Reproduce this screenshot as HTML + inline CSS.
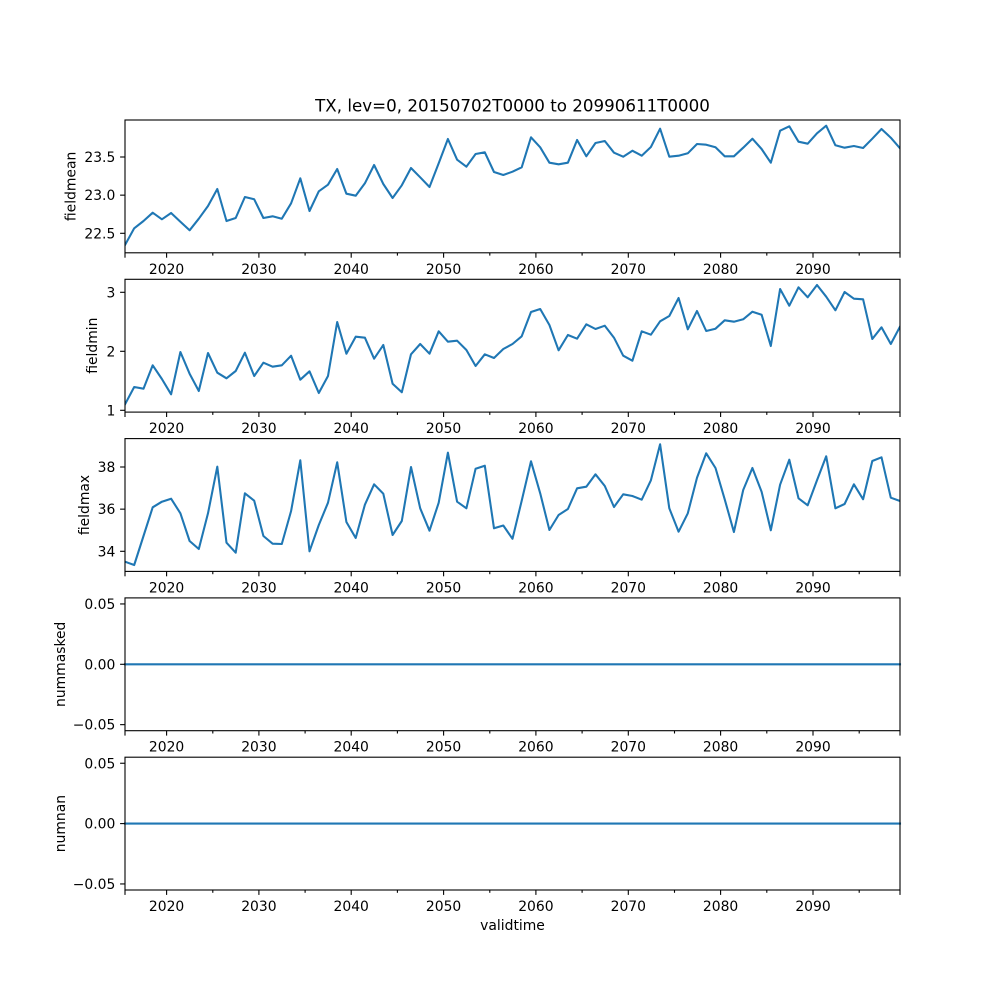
<!DOCTYPE html>
<html><head><meta charset="utf-8"><style>
html,body{margin:0;padding:0;background:#fff;}
svg{display:block;}
text{font-family:"DejaVu Sans","Liberation Sans",sans-serif;fill:#000;}
.tk{font-size:13.9px;}
.yl{font-size:13.9px;text-anchor:middle;}
.yt{text-anchor:end;}
.xt{text-anchor:middle;}
.ln{fill:none;stroke:#1f77b4;stroke-width:2.08;stroke-linejoin:round;stroke-linecap:square;}
.sp{fill:none;stroke:#000;stroke-width:1.1;}
.t{stroke:#000;stroke-width:1.1;}
</style></head><body>
<svg width="1000" height="1000" viewBox="0 0 1000 1000" xmlns="http://www.w3.org/2000/svg">
<defs>
<clipPath id="c1"><rect x="125" y="120" width="775" height="132.8"/></clipPath>
<clipPath id="c2"><rect x="125" y="279.3" width="775" height="132.8"/></clipPath>
<clipPath id="c3"><rect x="125" y="438.6" width="775" height="132.8"/></clipPath>
<clipPath id="c4"><rect x="125" y="597.9" width="775" height="132.8"/></clipPath>
<clipPath id="c5"><rect x="125" y="757.2" width="775" height="132.8"/></clipPath>
<g id="xt">
<line x1="125" y1="0" x2="125" y2="4.9"/>
<line x1="166.6" y1="0" x2="166.6" y2="4.9"/>
<line x1="258.9" y1="0" x2="258.9" y2="4.9"/>
<line x1="351.2" y1="0" x2="351.2" y2="4.9"/>
<line x1="443.6" y1="0" x2="443.6" y2="4.9"/>
<line x1="535.9" y1="0" x2="535.9" y2="4.9"/>
<line x1="628.3" y1="0" x2="628.3" y2="4.9"/>
<line x1="720.6" y1="0" x2="720.6" y2="4.9"/>
<line x1="813.0" y1="0" x2="813.0" y2="4.9"/>
<line x1="900" y1="0" x2="900" y2="4.9"/>
<line x1="212.8" y1="0" x2="212.8" y2="2.8"/>
<line x1="305.1" y1="0" x2="305.1" y2="2.8"/>
<line x1="397.4" y1="0" x2="397.4" y2="2.8"/>
<line x1="489.8" y1="0" x2="489.8" y2="2.8"/>
<line x1="582.1" y1="0" x2="582.1" y2="2.8"/>
<line x1="674.5" y1="0" x2="674.5" y2="2.8"/>
<line x1="766.8" y1="0" x2="766.8" y2="2.8"/>
<line x1="859.2" y1="0" x2="859.2" y2="2.8"/>
</g>
<g id="xl">
<text x="166.6" y="0" class="tk xt">2020</text>
<text x="258.9" y="0" class="tk xt">2030</text>
<text x="351.2" y="0" class="tk xt">2040</text>
<text x="443.6" y="0" class="tk xt">2050</text>
<text x="535.9" y="0" class="tk xt">2060</text>
<text x="628.3" y="0" class="tk xt">2070</text>
<text x="720.6" y="0" class="tk xt">2080</text>
<text x="813.0" y="0" class="tk xt">2090</text>
</g>
</defs>

<text x="512.5" y="111.7" style="font-size:16.7px;text-anchor:middle">TX, lev=0, 20150702T0000 to 20990611T0000</text>

<!-- Panel 1 -->
<g clip-path="url(#c1)">
<polyline class="ln" transform="translate(-0.3,0)" points="125.3,245 134.5,228.3 143.8,221 153.0,212.7 162.2,219.3 171.4,213 180.7,221.7 189.9,230.3 199.1,218.7 208.3,206 217.6,189 226.8,221 236.0,218 245.2,197 254.5,199.3 263.7,218 272.9,216.3 282.1,218.7 291.4,203.3 300.6,178.3 309.8,211 319.1,191.3 328.3,184.7 337.5,169 346.7,193.7 356.0,195.7 365.2,183.3 374.4,165 383.6,184 392.9,198 402.1,185.3 411.3,168 420.5,177.3 429.8,187 439.0,163.3 448.2,139 457.4,159.7 466.7,166.7 475.9,154 485.1,152.3 494.3,172 503.6,175 512.8,171.7 522.0,167.3 531.3,137.3 540.5,147.3 549.7,162.7 558.9,164.3 568.2,162.7 577.4,140 586.6,156.3 595.8,143 605.1,141 614.3,152.7 623.5,156.7 632.7,150.7 642.0,155.7 651.2,147 660.4,128.7 669.6,156.7 678.9,155.7 688.1,153.3 697.3,144 706.5,144.7 715.8,147.3 725.0,156.3 734.2,156.3 743.5,147.7 752.7,138.7 761.9,149 771.1,162.7 780.4,130.7 789.6,126.3 798.8,141.7 808.0,143.7 817.3,133.3 826.5,125.7 835.7,145.3 844.9,147.7 854.2,146 863.4,148 872.6,138.7 881.8,129 891.1,137.7 900.3,148.3"/>
</g>
<rect class="sp" x="125" y="120" width="775" height="132.8"/>
<g class="t"><line x1="120.1" y1="233.3" x2="125" y2="233.3"/><line x1="120.1" y1="195.15" x2="125" y2="195.15"/><line x1="120.1" y1="157" x2="125" y2="157"/></g>
<text x="115.3" y="238.3" class="tk yt">22.5</text>
<text x="115.3" y="200.15" class="tk yt">23.0</text>
<text x="115.3" y="162" class="tk yt">23.5</text>
<use href="#xt" class="t" transform="translate(0,252.8)"/>
<use href="#xl" transform="translate(0,273.8)"/>
<text class="yl" transform="translate(75.5,186.4) rotate(-90)">fieldmean</text>

<!-- Panel 2 -->
<g clip-path="url(#c2)">
<polyline class="ln" transform="translate(-0.3,0)" points="125.3,404.3 134.5,387 143.8,388.7 153.0,365.3 162.2,379 171.4,394.3 180.7,352 189.9,373.7 199.1,391 208.3,353 217.6,372.7 226.8,378.3 236.0,371 245.2,352.7 254.5,376 263.7,362.7 272.9,366.7 282.1,365.3 291.4,355.7 300.6,379.7 309.8,371.3 319.1,393 328.3,376 337.5,322 346.7,353.7 356.0,336.7 365.2,337.7 374.4,358.7 383.6,345 392.9,383.7 402.1,392.3 411.3,354.3 420.5,344 429.8,353.7 439.0,331.3 448.2,341.7 457.4,340.7 466.7,350 475.9,366 485.1,354.3 494.3,358 503.6,349 512.8,344 522.0,336.3 531.3,312 540.5,309 549.7,325 558.9,350.3 568.2,335 577.4,338.7 586.6,324.3 595.8,329 605.1,325.7 614.3,337.7 623.5,355.7 632.7,360.7 642.0,331.3 651.2,334.7 660.4,321.3 669.6,316 678.9,298 688.1,329.3 697.3,311 706.5,331 715.8,328.7 725.0,320.3 734.2,321.7 743.5,319.3 752.7,311.7 761.9,314.7 771.1,346 780.4,289 789.6,305.7 798.8,287.3 808.0,297.3 817.3,285 826.5,296.7 835.7,310.3 844.9,292 854.2,298.7 863.4,299.3 872.6,339 881.8,327.3 891.1,344 900.3,326.7"/>
</g>
<rect class="sp" x="125" y="279.3" width="775" height="132.8"/>
<g class="t"><line x1="120.1" y1="410.3" x2="125" y2="410.3"/><line x1="120.1" y1="351.3" x2="125" y2="351.3"/><line x1="120.1" y1="292.3" x2="125" y2="292.3"/></g>
<text x="115.3" y="415.3" class="tk yt">1</text>
<text x="115.3" y="356.3" class="tk yt">2</text>
<text x="115.3" y="297.3" class="tk yt">3</text>
<use href="#xt" class="t" transform="translate(0,412.1)"/>
<use href="#xl" transform="translate(0,433.1)"/>
<text class="yl" transform="translate(97,345.7) rotate(-90)">fieldmin</text>

<!-- Panel 3 -->
<g clip-path="url(#c3)">
<polyline class="ln" transform="translate(-0.3,0)" points="125.3,561.7 134.5,565 143.8,536 153.0,507.3 162.2,501.7 171.4,498.7 180.7,513.3 189.9,541 199.1,549 208.3,513.3 217.6,466.7 226.8,542.7 236.0,552.7 245.2,493.3 254.5,500.7 263.7,536 272.9,543.7 282.1,544 291.4,511 300.6,460.3 309.8,551.3 319.1,525 328.3,502.7 337.5,462.3 346.7,522 356.0,538 365.2,504.7 374.4,484.3 383.6,493.7 392.9,535 402.1,521 411.3,467 420.5,508.3 429.8,530.7 439.0,502.7 448.2,452.7 457.4,501.7 466.7,508.3 475.9,468.7 485.1,465.7 494.3,528.3 503.6,525.5 512.8,538.8 522.0,500.7 531.3,461.3 540.5,493.3 549.7,530 558.9,515 568.2,509 577.4,488.3 586.6,486.7 595.8,474.3 605.1,486 614.3,507 623.5,494.3 632.7,496 642.0,499.7 651.2,480.3 660.4,444.3 669.6,508.3 678.9,531.7 688.1,513.3 697.3,477.7 706.5,453.3 715.8,468 725.0,499.3 734.2,532 743.5,490 752.7,468 761.9,491.7 771.1,530.3 780.4,484.7 789.6,459.7 798.8,498.3 808.0,505.3 817.3,480.3 826.5,456.3 835.7,508.3 844.9,504 854.2,484.3 863.4,499.3 872.6,461 881.8,457.3 891.1,497.7 900.3,501"/>
</g>
<rect class="sp" x="125" y="438.6" width="775" height="132.8"/>
<g class="t"><line x1="120.1" y1="551.3" x2="125" y2="551.3"/><line x1="120.1" y1="509.15" x2="125" y2="509.15"/><line x1="120.1" y1="467" x2="125" y2="467"/></g>
<text x="115.3" y="556.3" class="tk yt">34</text>
<text x="115.3" y="514.15" class="tk yt">36</text>
<text x="115.3" y="472" class="tk yt">38</text>
<use href="#xt" class="t" transform="translate(0,571.4)"/>
<use href="#xl" transform="translate(0,592.4)"/>
<text class="yl" transform="translate(89,505) rotate(-90)">fieldmax</text>

<!-- Panel 4 -->
<line x1="125" y1="664.3" x2="900" y2="664.3" class="ln"/>
<rect class="sp" x="125" y="597.9" width="775" height="132.8"/>
<g class="t"><line x1="120.1" y1="724.65" x2="125" y2="724.65"/><line x1="120.1" y1="664.3" x2="125" y2="664.3"/><line x1="120.1" y1="603.95" x2="125" y2="603.95"/></g>
<text x="115.3" y="729.65" class="tk yt">−0.05</text>
<text x="115.3" y="669.3" class="tk yt">0.00</text>
<text x="115.3" y="608.95" class="tk yt">0.05</text>
<use href="#xt" class="t" transform="translate(0,730.7)"/>
<use href="#xl" transform="translate(0,751.7)"/>
<text class="yl" transform="translate(65,664.3) rotate(-90)">nummasked</text>

<!-- Panel 5 -->
<line x1="125" y1="823.6" x2="900" y2="823.6" class="ln"/>
<rect class="sp" x="125" y="757.2" width="775" height="132.8"/>
<g class="t"><line x1="120.1" y1="883.95" x2="125" y2="883.95"/><line x1="120.1" y1="823.6" x2="125" y2="823.6"/><line x1="120.1" y1="763.25" x2="125" y2="763.25"/></g>
<text x="115.3" y="888.95" class="tk yt">−0.05</text>
<text x="115.3" y="828.6" class="tk yt">0.00</text>
<text x="115.3" y="768.25" class="tk yt">0.05</text>
<use href="#xt" class="t" transform="translate(0,890)"/>
<use href="#xl" transform="translate(0,911)"/>
<text class="yl" transform="translate(65,823.6) rotate(-90)">numnan</text>

<text x="512.5" y="930" style="font-size:13.9px;text-anchor:middle">validtime</text>
</svg>
</body></html>
